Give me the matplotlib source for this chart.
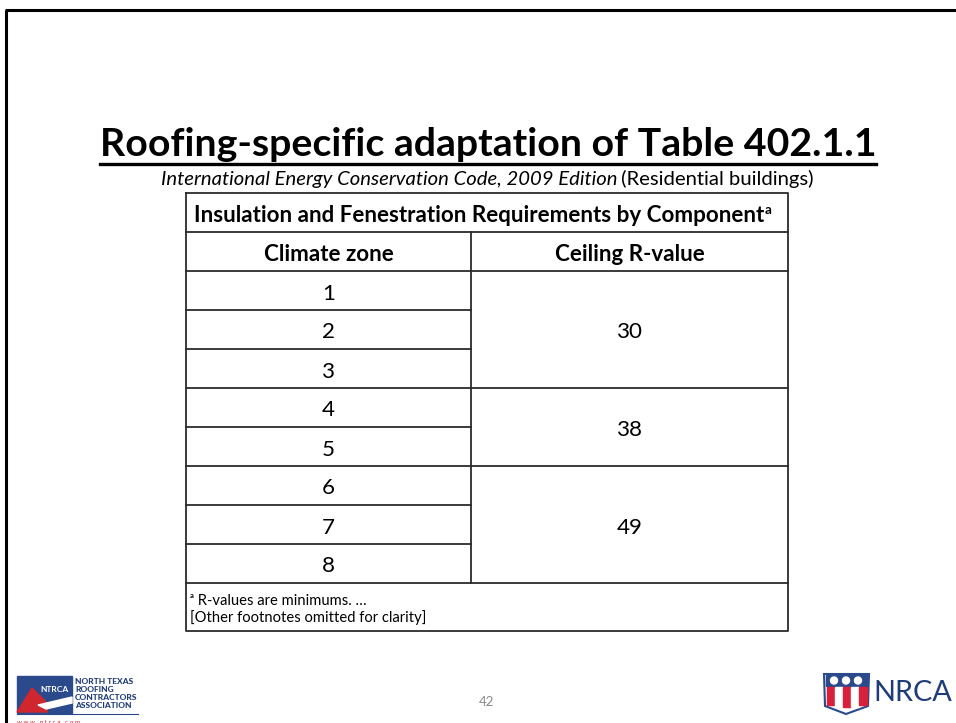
import matplotlib
matplotlib.use("Agg")
import matplotlib.pyplot as plt
from matplotlib.patches import Rectangle, Polygon

# ---- data ----
title = "Roofing-specific adaptation of Table 402.1.1"
subtitle_italic = "International Energy Conservation Code, 2009 Edition"
subtitle_plain = " (Residential buildings)"
table_header = "Insulation and Fenestration Requirements by Component"
col_headers = ["Climate zone", "Ceiling R-value"]
climate_zones = [1, 2, 3, 4, 5, 6, 7, 8]
ceiling_r_values = [30, 30, 30, 38, 38, 49, 49, 49]
footnotes = ["\u1d43 R-values are minimums. \u2026", "[Other footnotes omitted for clarity]"]
page_number = "42"

FONT = ["Lato", "DejaVu Sans"]
W, H = 956, 723
fig = plt.figure(figsize=(W / 100, H / 100), dpi=100)
ax = fig.add_axes([0, 0, 1, 1])
ax.set_xlim(0, W)
ax.set_ylim(H, 0)
ax.axis("off")
fig.canvas.draw()
renderer = fig.canvas.get_renderer()


def width_px(t):
    bb = t.get_window_extent(renderer=renderer)
    return bb.width


def fit_text(x, y, s, target_w, **kw):
    t = ax.text(x, y, s, fontsize=20, family=FONT, **kw)
    w = width_px(t)
    t.set_fontsize(20 * target_w / w)
    return t


# slide border
ax.plot([5, W], [10, 10], color="black", lw=2.2, solid_capstyle="butt")
ax.plot([6, 6], [10, H], color="black", lw=2.2, solid_capstyle="butt")

# title
tt = fit_text(488, 144, title, 776, ha="center", va="center", fontweight="bold", color="black")
ax.plot([100, 876], [164, 164], color="black", lw=2.4)

# subtitle: italic + plain
t1 = ax.text(0, 179, subtitle_italic, fontsize=12, family=FONT, style="italic", va="center")
t2 = ax.text(0, 179, subtitle_plain, fontsize=12, family=FONT, va="center")
w1, w2 = width_px(t1), width_px(t2)
scale = (813 - 161) / (w1 + w2)
t1.set_fontsize(12 * scale)
t2.set_fontsize(12 * scale)
t1.set_x(161)
t2.set_x(161 + w1 * scale)

# table geometry
left, right, mid = 186, 788, 471
top = 193
hdr_h = 39
row_h = 39
lc = "#2b2b2b"
lw = 1.3
dy = 3
y_hdr2 = top + hdr_h
y_rows = y_hdr2 + hdr_h
n = len(climate_zones)
y_end = y_rows + n * row_h
y_foot = 631

# outer box
ax.plot([left, right, right, left, left], [top, top, y_foot, y_foot, top], color=lc, lw=lw)
ax.plot([left, right], [y_hdr2, y_hdr2], color=lc, lw=lw)
ax.plot([left, right], [y_rows, y_rows], color=lc, lw=lw)
ax.plot([left, right], [y_end, y_end], color=lc, lw=lw)
ax.plot([mid, mid], [y_hdr2, y_end], color=lc, lw=lw)

# header texts
th = fit_text(194, top + hdr_h / 2 + dy, table_header, 571,
              ha="left", va="center", fontweight="bold")
hs = th.get_fontsize()
ax.text(765, top + hdr_h / 2 - 5 + dy, "a", fontsize=hs * 0.6, family=FONT,
        fontweight="bold", ha="left", va="center")
ax.text((left + mid) / 2, y_hdr2 + hdr_h / 2 + dy, col_headers[0], fontsize=hs, family=FONT,
        fontweight="bold", ha="center", va="center")
ax.text((mid + right) / 2, y_hdr2 + hdr_h / 2 + dy, col_headers[1], fontsize=hs, family=FONT,
        fontweight="bold", ha="center", va="center")

# rows
for i, z in enumerate(climate_zones):
    yc = y_rows + (i + 0.5) * row_h
    ax.text((left + mid) / 2, yc + dy, str(z), fontsize=hs, family=FONT, ha="center", va="center")
    if i > 0:
        ax.plot([left, mid], [y_rows + i * row_h] * 2, color=lc, lw=lw)

# merged R-value groups
start = 0
for i in range(1, n + 1):
    if i == n or ceiling_r_values[i] != ceiling_r_values[start]:
        y0 = y_rows + start * row_h
        y1 = y_rows + i * row_h
        ax.text((mid + right) / 2, (y0 + y1) / 2 + dy, str(ceiling_r_values[start]), fontsize=hs,
                family=FONT, ha="center", va="center")
        if i < n:
            ax.plot([mid, right], [y1, y1], color=lc, lw=lw)
        start = i

# footnotes
fn1 = ax.text(190, 601, footnotes[0], fontsize=10, family=FONT, ha="left", va="center")
fn2 = ax.text(190, 618, footnotes[1], fontsize=10, family=FONT, ha="left", va="center")
fsz = 10 * 236 / width_px(fn2)
fn1.set_fontsize(fsz)
fn2.set_fontsize(fsz)

# page number
ax.text(487, 702, page_number, fontsize=9.5, family=FONT, color="#8a8a8a", ha="center", va="center")

# NTRCA logo
navy = "#2a4a8c"
ax.add_patch(Rectangle((17, 676), 55, 37, color=navy, zorder=2))
ax.add_patch(Polygon([[17, 712], [32, 688], [47, 703], [47, 712]], color="#d0262e", zorder=3))
ax.add_patch(Polygon([[38, 705], [72, 697], [72, 703], [46, 709]], color="white", zorder=3))
ax.text(55, 690, "NTRCA", fontsize=6, family=FONT, fontweight="bold", color="white",
        ha="center", va="center", zorder=4)
for k, s in enumerate(["NORTH TEXAS", "ROOFING", "CONTRACTORS", "ASSOCIATION"]):
    t = ax.text(75, 681 + k * 8.2, s, fontsize=6, family=FONT, fontweight="black", color="#1f3c7a",
                ha="left", va="center")
    if s == "CONTRACTORS":
        t.set_fontsize(6 * 63 / width_px(t))
ax.plot([17, 138], [714, 714], color=navy, lw=0.8)
ax.text(17, 722, "w w w . n t r c a . c o m", fontsize=4.5, family=FONT, color="#d0262e",
        ha="left", va="center")

# NRCA logo
ax.add_patch(Polygon([[824, 674], [869, 674], [868, 706], [846, 714], [825, 706]],
                     facecolor="white", edgecolor=navy, lw=1.5, zorder=2))
ax.add_patch(Rectangle((826, 675), 41, 11, color=navy, zorder=3))
for cx in [834, 846, 858]:
    ax.add_patch(plt.Circle((cx, 680.5), 3.5, color="white", zorder=4))
for k, xx in enumerate([827, 835, 843, 851, 859]):
    col = "#d8203a" if k % 2 == 0 else "white"
    ax.add_patch(Polygon([[xx, 687], [xx + 8, 687], [xx + 8, 707 - (2 if k in (0, 4) else 0)],
                          [xx, 707 - (2 if k in (0, 4) else 0)]], color=col, zorder=3))
nr = ax.text(873, 693, "NRCA", fontsize=20, family=FONT, color="#1f3c7a", ha="left", va="center")
nr.set_fontsize(20 * 79 / width_px(nr))

fig.savefig("out.png", dpi=100)
